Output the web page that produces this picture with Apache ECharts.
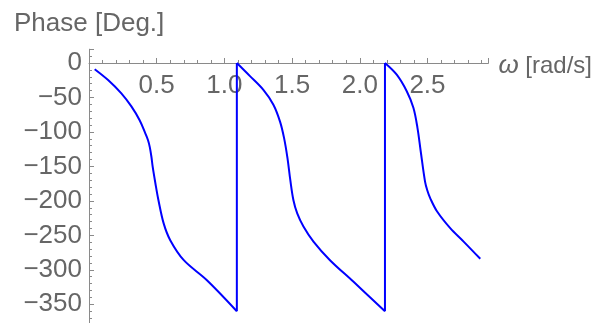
<!DOCTYPE html>
<html>
<head>
<meta charset="utf-8">
<script src="https://cdn.jsdelivr.net/npm/echarts@6/dist/echarts.min.js"></script>
<style>html,body{margin:0;padding:0;background:#fff}#c{width:604px;height:323px}</style>
</head>
<body>
<div id="c"></div>
<script>
// Data (omega in rad/s, phase in degrees)
var omega1 = [0.042, 0.141, 0.239, 0.313, 0.374, 0.416, 0.436, 0.449, 0.461, 0.47, 0.49, 0.513, 0.552, 0.60, 0.70, 0.871, 1.092];
var phase1 = [-9, -24.7, -44, -63, -83, -102, -112, -122, -136, -150, -174, -199, -233, -257, -286, -315, -360];
var omega2 = [1.092, 1.189, 1.288, 1.362, 1.411, 1.441, 1.466, 1.487, 1.51, 1.538, 1.584, 1.658, 1.78, 1.952, 2.186];
var phase2 = [0, -19, -39, -60.5, -85, -109, -138, -170, -199, -218, -237, -259, -286, -317, -360];
var omega3 = [2.186, 2.273, 2.347, 2.396, 2.426, 2.45, 2.482, 2.499, 2.52, 2.57, 2.668, 2.767, 2.89];
var phase3 = [0, -17, -41, -65, -94, -128, -172, -185, -196, -215, -239.5, -259, -284];
var jumpOmega = [1.092, 2.186];
var jumpFrom = [-360, -360];
var jumpTo = [0, 0];
var xTickValues = [0.5, 1.0, 1.5, 2.0, 2.5];
var yTickValues = [0, -50, -100, -150, -200, -250, -300, -350];

function pairs(xs, ys) { return xs.map(function (x, i) { return [x, ys[i]]; }); }
var jumpData = [];
jumpOmega.forEach(function (w, i) {
  if (i > 0) jumpData.push(null);
  jumpData.push([w, jumpFrom[i]]);
  jumpData.push([w, jumpTo[i]]);
});

var FONT = 'Liberation Sans';
var TXT = '#666666';
var AX = '#8a8a8a';
var BLUE = '#0000ff';

var Y_MIN = -400, Y_MAX = 20;
var GRID_TOP = 49.2, GRID_BOTTOM = -15.8, H = 323;
var plotH = H - GRID_TOP - GRID_BOTTOM;
// shift the bottom x axis up so that it sits on the zero line
var xAxisOffset = -(plotH * (0 - Y_MIN) / (Y_MAX - Y_MIN));

function lineSeries(data, smooth) {
  return {
    type: 'line', data: data, smooth: smooth,
    showSymbol: false, connectNulls: false,
    lineStyle: { color: BLUE, width: 2 }, itemStyle: { color: BLUE },
    silent: true, animation: false, clip: false
  };
}

var chart = echarts.init(document.getElementById('c'), null, { renderer: 'canvas' });
chart.setOption({
  animation: false,
  title: {
    text: 'Phase [Deg.]', left: 9, top: 6,
    textStyle: { fontFamily: FONT, fontSize: 26, fontWeight: 'normal', color: TXT }
  },
  grid: { left: 89, right: 115.6, top: GRID_TOP, bottom: GRID_BOTTOM, containLabel: false, outerBoundsMode: 'none' },
  xAxis: {
    type: 'value', min: 0, max: 2.95, interval: 0.5,
    position: 'bottom', offset: xAxisOffset,
    axisLine: { onZero: false, lineStyle: { color: AX, width: 1 } },
    axisTick: { show: true, inside: true, length: 5, lineStyle: { color: AX } },
    minorTick: { show: true, splitNumber: 5, length: 3, lineStyle: { color: AX } },
    splitLine: { show: false },
    axisLabel: {
      margin: 10, fontFamily: FONT, fontSize: 26, color: TXT,
      formatter: function (v) {
        for (var i = 0; i < xTickValues.length; i++) {
          if (Math.abs(v - xTickValues[i]) < 1e-6) return xTickValues[i].toFixed(1);
        }
        return '';
      }
    },
    name: '{i|ω} [rad/s]', nameLocation: 'end', nameGap: 10,
    nameTextStyle: {
      fontFamily: FONT, fontSize: 24, color: TXT, verticalAlign: 'middle',
      padding: [6, 0, 0, 0],
      rich: { i: { fontFamily: FONT, fontSize: 26, fontStyle: 'italic', color: TXT } }
    }
  },
  yAxis: {
    type: 'value', min: Y_MIN, max: Y_MAX, interval: 50,
    axisLine: { show: true, lineStyle: { color: AX, width: 1 } },
    axisTick: { show: true, inside: true, length: 5, lineStyle: { color: AX } },
    minorTick: { show: true, splitNumber: 5, length: 3, lineStyle: { color: AX } },
    splitLine: { show: false },
    axisLabel: {
      margin: 7, fontFamily: FONT, fontSize: 26, color: TXT,
      formatter: function (v) {
        for (var i = 0; i < yTickValues.length; i++) {
          if (Math.abs(v - yTickValues[i]) < 1e-6) return String(yTickValues[i]).replace('-', '\u2212');
        }
        return '';
      }
    }
  },
  series: [
    lineSeries(pairs(omega1, phase1), 0.35),
    lineSeries(pairs(omega2, phase2), 0.35),
    lineSeries(pairs(omega3, phase3), 0.35),
    lineSeries(jumpData, false)
  ]
});
</script>
</body>
</html>
